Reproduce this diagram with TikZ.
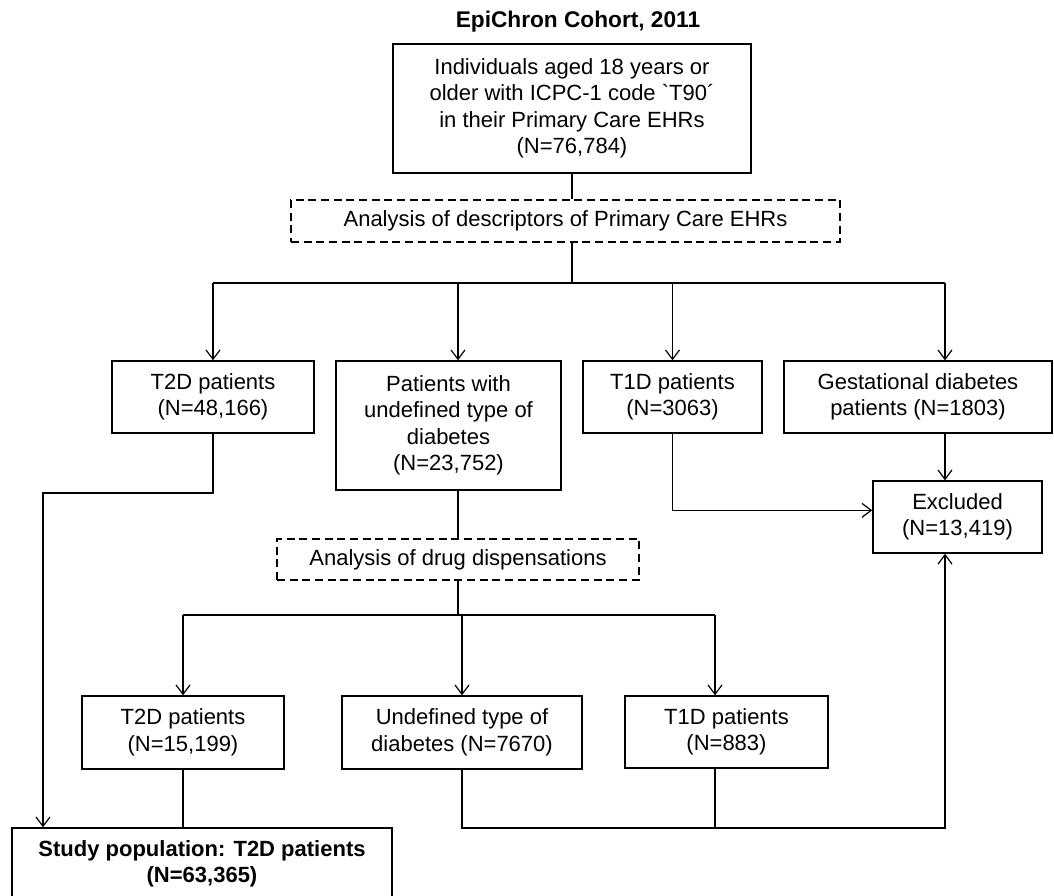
\documentclass[tikz,border=0pt]{standalone}
\usepackage{fontspec}
\setmainfont{Liberation Sans}
\newfontfamily\rawfont{Liberation Sans}[Ligatures=ResetAll]
\usetikzlibrary{arrows.meta,positioning}
\newcommand{\pxu}{0.75pt}
\tikzstyle{stage}=[rectangle,draw=black,line width=1.1pt,inner sep=0pt,align=center,font=\fontsize{16.5}{19.9}\selectfont]
\tikzstyle{analysis}=[stage,line width=0.9pt,dash pattern=on 6pt off 3.5pt]
\tikzstyle{flow}=[-{Straight Barb[length=7pt,width=10.5pt]},line width=0.9pt]
\tikzstyle{link}=[line width=0.9pt]

\begin{document}
\begin{tikzpicture}[x=0.75pt,y=-0.75pt]
    \useasboundingbox (0,0) rectangle (1054,896);

    % Knoten
    \node[font=\fontsize{17}{20}\selectfont\bfseries] (title) at (578,22) {EpiChron Cohort, 2011};
    \node[stage, minimum width=358*\pxu, minimum height=129*\pxu] (cohort) at (572,108.5)
        {Individuals aged 18 years or\\older with ICPC-1 code {\rawfont\char"60}T90´\\in their Primary Care EHRs\\(N=76,784)};
    \node[analysis, minimum width=549*\pxu, minimum height=42*\pxu] (desc) at (565.5,221)
        {Analysis of descriptors of Primary Care EHRs};
    \node[stage, minimum width=202*\pxu, minimum height=72*\pxu] (t2d) at (213,397) {T2D patients\\(N=48,166)};
    \node[stage, minimum width=225*\pxu, minimum height=129*\pxu] (undef) at (448.5,425.5)
        {Patients with\\undefined type of\\diabetes\\(N=23,752)};
    \node[stage, minimum width=179*\pxu, minimum height=72*\pxu] (t1d) at (672.5,397) {T1D patients\\(N=3063)};
    \node[stage, minimum width=268*\pxu, minimum height=72*\pxu] (gest) at (918,397)
        {Gestational diabetes\\patients (N=1803)};
    \node[stage, minimum width=169*\pxu, minimum height=72*\pxu] (excl) at (957.5,517) {Excluded\\(N=13,419)};
    \node[analysis, minimum width=362*\pxu, minimum height=41*\pxu] (drug) at (458,559.5)
        {Analysis of drug dispensations};
    \node[stage, minimum width=202*\pxu, minimum height=73*\pxu] (t2dB) at (183,732.5) {T2D patients\\(N=15,199)};
    \node[stage, minimum width=240*\pxu, minimum height=73*\pxu] (undefB) at (462,732.5)
        {Undefined type of\\diabetes (N=7670)};
    \node[stage, minimum width=203*\pxu, minimum height=72*\pxu] (t1dB) at (726.5,732) {T1D patients\\(N=883)};
    \node[stage, minimum width=380*\pxu, minimum height=72*\pxu, font=\fontsize{16.5}{19.9}\selectfont\bfseries] (study) at (202,864)
        {Study population: T2D patients\\(N=63,365)};

    % Verzweigungen
    \coordinate (busAw) at (213,283);
    \coordinate (busAe) at (945,283);
    \coordinate (rail) at (43,493);
    \coordinate (busBw) at (183,615);
    \coordinate (busBe) at (715,615);
    \coordinate (busCe) at (945,828);

    % Entscheidungen
    \draw [link] (cohort.south) -- (cohort.south |- desc.north);
    \draw [link] (cohort.south |- desc.south) -- (cohort.south |- busAw);
    \draw [link] (busAw) -- (busAe);
    \draw [flow] (busAw) -- (t2d.north);
    \draw [flow] (busAw -| drug) -- (undef.north -| drug);
    \draw [flow] (busAw -| t1d) -- (t1d.north);
    \draw [flow] (busAe) -- (busAe |- gest.north);
    \draw [flow] (gest.south -| busAe) -- (excl.north -| busAe);
    \draw [flow] (t1d.south) |- ([yshift=5pt]excl.west);
    \draw [flow] (t2d.south) |- (rail) -- (rail |- study.north);
    \draw [link] (undef.south -| drug) -- (drug.north);
    \draw [link] (drug.south) -- (drug |- busBw);
    \draw [link] (busBw) -- (busBe);
    \draw [flow] (busBw) -- (t2dB.north);
    \draw [flow] (busBw -| undefB) -- (undefB.north);
    \draw [flow] (busBe) -- (busBe |- t1dB.north);
    \draw [link] (t2dB.south) -- (t2dB.south |- study.north);
    \draw [link] (t1dB.south -| busBe) -- (busBe |- busCe);
    \draw [flow] (undefB.south) |- (busCe) -- (excl.south -| busCe);

\end{tikzpicture}
\end{document}
